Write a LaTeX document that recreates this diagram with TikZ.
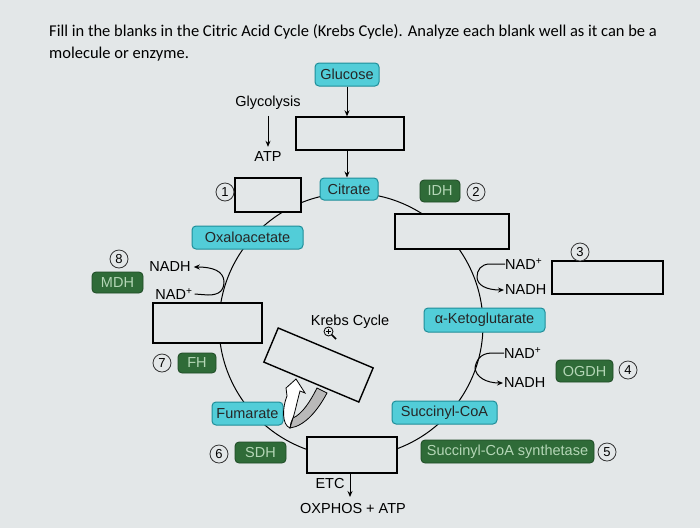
\documentclass[tikz,border=0pt]{standalone}
\usepackage{fontspec}
\setmainfont{Liberation Sans}
\newfontfamily\titlefont{Carlito}
\usetikzlibrary{arrows.meta,calc}
\definecolor{bg}{HTML}{E3E7E8}
\definecolor{cyanfill}{HTML}{52CDD8}
\definecolor{cyanline}{HTML}{1F8E99}
\definecolor{greenfill}{HTML}{2F6B38}
\definecolor{greenline}{HTML}{1E4A25}
\definecolor{greentext}{HTML}{B4D6B6}
\begin{document}
\begin{tikzpicture}[x=1pt,y=-1pt,
 lbl/.style={font=\fontsize{14.5}{16}\selectfont, inner sep=0pt},
 mol/.style={draw=cyanline, line width=1pt, fill=cyanfill, rounded corners=4pt, font=\fontsize{14.5}{16}\selectfont, text=black!85, inner sep=0pt},
 enz/.style={draw=greenline, line width=0.8pt, fill=greenfill, rounded corners=4pt, font=\fontsize{14.5}{16}\selectfont, text=greentext, inner sep=0pt},
 blank/.style={draw=black, line width=1.4pt, fill=bg, inner sep=0pt},
 num/.style={draw=black!80, circle, line width=0.8pt, minimum size=18pt, inner sep=0pt, fill=bg, font=\fontsize{13}{14}\selectfont},
 arr/.style={-{Stealth[length=6pt,width=5pt]}, line width=1pt},
 ln/.style={line width=1pt}]
\fill[bg] (0,0) rectangle (700,528);
\useasboundingbox (0,0) rectangle (700,528);

% title
\node[anchor=base west, inner sep=0pt, font=\titlefont\fontsize{16.5}{18}\selectfont] (t1) at (49,36) {Fill in the blanks in the Citric Acid Cycle (Krebs Cycle). Analyze each blank well as it can be a};
\node[anchor=base west, inner sep=0pt, font=\titlefont\fontsize{16.5}{18}\selectfont] (t2) at (49,58) {molecule or enzyme.};

% cycle
\draw[ln] (351,325) circle[radius=132];

% top part
\node[mol, minimum width=64pt, minimum height=23pt] (glu) at (347,74.5) {Glucose};
\node[lbl] (glyc) at (268,103) {Glycolysis};
\node[lbl] (atp) at (268,157) {ATP};
\node[blank, minimum width=108pt, minimum height=33pt] (b0) at (350,133.5) {};
\node[mol, minimum width=58pt, minimum height=22pt] (cit) at (349,189) {Citrate};
\draw[arr] ([yshift=-6pt]glyc.south) -- ([yshift=5pt]atp.north);
\draw[arr] (glu.south) -- (glu.south |- b0.north);
\draw[arr] (glu.south |- b0.south) -- (glu.south |- cit.north);

% blanks on the cycle
\node[blank, minimum width=66pt, minimum height=34pt] (b1) at (268,195) {};
\node[blank, minimum width=114pt, minimum height=35pt] (b2) at (452,231.5) {};
\node[blank, minimum width=111pt, minimum height=33pt] (b3) at (607.5,277.5) {};
\node[blank, minimum width=109pt, minimum height=40pt] (b7) at (207.5,323) {};
\node[blank, minimum width=90pt, minimum height=36pt] (b6) at (352,455) {};

% molecules
\node[mol, minimum width=111pt, minimum height=23pt] (oxa) at (247.5,237.5) {Oxaloacetate};
\node[mol, minimum width=121pt, minimum height=24pt] (akg) at (484.5,320) {α-Ketoglutarate};
\node[mol, minimum width=105pt, minimum height=23pt] (suc) at (444.5,412.5) {Succinyl-CoA};
\node[mol, minimum width=71pt, minimum height=23pt] (fum) at (247.5,413.5) {Fumarate};

% enzymes
\node[enz, minimum width=40pt, minimum height=22pt] (idh) at (440,191) {IDH};
\node[enz, minimum width=51pt, minimum height=21pt] (mdh) at (117.5,282.5) {MDH};
\node[enz, minimum width=38pt, minimum height=20pt] (fh) at (197,363) {FH};
\node[enz, minimum width=51pt, minimum height=21pt] (sdh) at (260.5,452.5) {SDH};
\node[enz, minimum width=57pt, minimum height=22pt] (ogdh) at (584.5,371) {OGDH};
\node[enz, minimum width=173pt, minimum height=23pt] (scs) at (507.5,451.5) {Succinyl-CoA synthetase};

% numbers
\node[num] (n1) at (225,192) {1};
\node[num] (n2) at (476,192) {2};
\node[num] (n3) at (580,252) {3};
\node[num] (n4) at (628,370) {4};
\node[num] (n5) at (607,452) {5};
\node[num] (n6) at (219,454) {6};
\node[num] (n7) at (162,363) {7};
\node[num] (n8) at (119,259) {8};

% NAD / NADH left
\node[lbl] (nadhL) at (170,267) {NADH};
\node[lbl] (nadL) at (174,294) {NAD\textsuperscript{+}};
\draw[ln] ([xshift=2pt]nadL.east) -- (208,295) .. controls (220,295) and (224,290) .. (224,281);
\draw[arr] (224,281) .. controls (223,271) and (213,267) .. ([xshift=3pt]nadhL.east);

% NAD / NADH right top
\node[lbl, anchor=west] (nadR1) at (505,264) {NAD\textsuperscript{+}};
\node[lbl, anchor=west] (nadhR1) at (505,290) {NADH};
\draw[ln] (nadR1.west) -- (490,264) .. controls (481,264) and (477,270) .. (477,277);
\draw[arr] (477,277) .. controls (477,285) and (486,290) .. ([xshift=-1pt]nadhR1.west);

% NAD / NADH right bottom
\node[lbl, anchor=west] (nadR2) at (504,353) {NAD\textsuperscript{+}};
\node[lbl, anchor=west] (nadhR2) at (504,383) {NADH};
\draw[ln] (nadR2.west) -- (492,353) .. controls (480,353) and (476,361) .. (475,368);
\draw[arr] (475,368) .. controls (476,377) and (486,383) .. ([xshift=-1pt]nadhR2.west);

% bottom
\node[lbl] (etc) at (330,483) {ETC};
\node[lbl] (ox) at (353,508) {OXPHOS + ATP};
\draw[arr] (b6.south -| 350,0) -- (350,497);

% centre
\node[lbl] (krebs) at (350,322) {Krebs Cycle};
\draw[line width=0.8pt] (328.5,331.5) circle[radius=4.5];
\draw[line width=0.7pt] (326,331.5) -- (331,331.5) (328.5,329) -- (328.5,334);
\draw[line width=1.6pt] (331.8,334.8) -- (336,339);
\node[blank, rotate=-22.8, minimum width=103pt, minimum height=37pt] (bt) at (318.5,365) {};

% twisted arrow
\draw[line width=0.8pt, fill=white] (290,428) .. controls (282,425) and (282,408) .. (287,396) -- (286,388) -- (296,379) -- (305,393) -- (300,391) .. controls (297,402) and (295,412) .. (293,418) .. controls (291,422) and (290,425) .. cycle;
\draw[line width=0.8pt, fill=gray!55] (290,428) .. controls (305,426) and (318,410) .. (327,393) -- (317,388) .. controls (310,402) and (302,414) .. (293,418) -- cycle;
\end{tikzpicture}
\end{document}
